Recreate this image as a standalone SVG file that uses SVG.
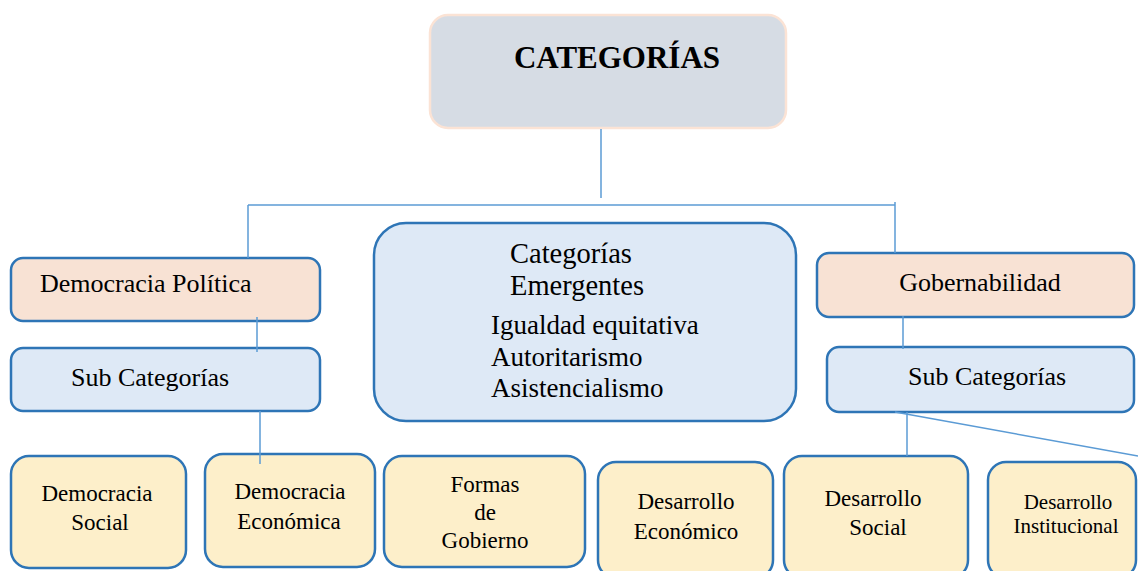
<svg xmlns="http://www.w3.org/2000/svg" width="1138" height="571" viewBox="0 0 1138 571">
<style>
text{font-family:"Liberation Serif","Times New Roman",serif;fill:#000}
.n{stroke:#2e75b6;stroke-width:2.5}
.peach{fill:#f8e2d4}
.blue{fill:#dee9f6}
.gold{fill:#fdefca}
.c{fill:none;stroke:#5b9bd5;stroke-width:1.5}
.t26{font-size:26px}
.t23{font-size:23px;text-anchor:middle}
</style>
<rect width="1138" height="571" fill="#fff"/>
<g id="categorias">
<rect x="430" y="15" width="356" height="113" rx="18" fill="#d6dce4" stroke="#fbe3d5" stroke-width="2.5"/>
<text x="617" y="68" font-size="31" font-weight="bold" text-anchor="middle">CATEGORÍAS</text>
</g>
<g id="democracia-politica">
<rect class="n peach" x="11" y="258" width="309" height="63" rx="12"/>
<text class="t26" x="40" y="292">Democracia Política</text>
</g>
<g id="sub-categorias-izq">
<rect class="n blue" x="11" y="348" width="309" height="63" rx="12"/>
<text class="t26" x="71" y="386">Sub Categorías</text>
</g>
<g id="categorias-emergentes">
<rect class="n blue" x="374" y="223" width="422" height="198" rx="32"/>
<text x="510" y="263" font-size="28.5">Categorías</text>
<text x="510" y="295" font-size="28.5">Emergentes</text>
<text x="491" y="334" font-size="27">Igualdad equitativa</text>
<text x="491" y="366" font-size="27">Autoritarismo</text>
<text x="491" y="397" font-size="27">Asistencialismo</text>
</g>
<g id="gobernabilidad">
<rect class="n peach" x="817" y="253" width="317" height="64" rx="12"/>
<text class="t26" x="980" y="291" text-anchor="middle">Gobernabilidad</text>
</g>
<g id="sub-categorias-der">
<rect class="n blue" x="827" y="347" width="307" height="65" rx="12"/>
<text class="t26" x="987" y="385" text-anchor="middle">Sub Categorías</text>
</g>
<g id="democracia-social">
<rect class="n gold" x="11" y="456" width="175" height="112" rx="18"/>
<text class="t23" x="97" y="501">Democracia</text>
<text class="t23" x="100" y="530">Social</text>
</g>
<g id="democracia-economica">
<rect class="n gold" x="205" y="454" width="170" height="113" rx="18"/>
<text class="t23" x="290" y="499">Democracia</text>
<text class="t23" x="289" y="529">Económica</text>
</g>
<g id="formas-de-gobierno">
<rect class="n gold" x="384" y="456" width="201" height="111" rx="18"/>
<text class="t23" x="485" y="492">Formas</text>
<text class="t23" x="485" y="520">de</text>
<text class="t23" x="485" y="548">Gobierno</text>
</g>
<g id="desarrollo-economico">
<rect class="n gold" x="598" y="462" width="175" height="116" rx="18"/>
<text class="t23" x="686" y="509">Desarrollo</text>
<text class="t23" x="686" y="539">Económico</text>
</g>
<g id="desarrollo-social">
<rect class="n gold" x="784" y="456" width="184" height="122" rx="18"/>
<text class="t23" x="873" y="506">Desarrollo</text>
<text class="t23" x="878" y="535">Social</text>
</g>
<g id="desarrollo-institucional">
<rect class="n gold" x="988" y="462" width="148" height="116" rx="18"/>
<text x="1068" y="509" font-size="21" text-anchor="middle">Desarrollo</text>
<text x="1066" y="533" font-size="21" text-anchor="middle">Institucional</text>
</g>
<g id="connectors">
<path class="c" d="M601 129V198"/>
<path class="c" d="M248 205H895"/>
<path class="c" d="M248 205V258"/>
<path class="c" d="M895 202V253"/>
<path class="c" d="M257 317V352"/>
<path class="c" d="M260 411V464"/>
<path class="c" d="M903 316V349"/>
<path class="c" d="M907 412V456"/>
<path class="c" d="M895 412L1138 456"/>
</g>
</svg>
